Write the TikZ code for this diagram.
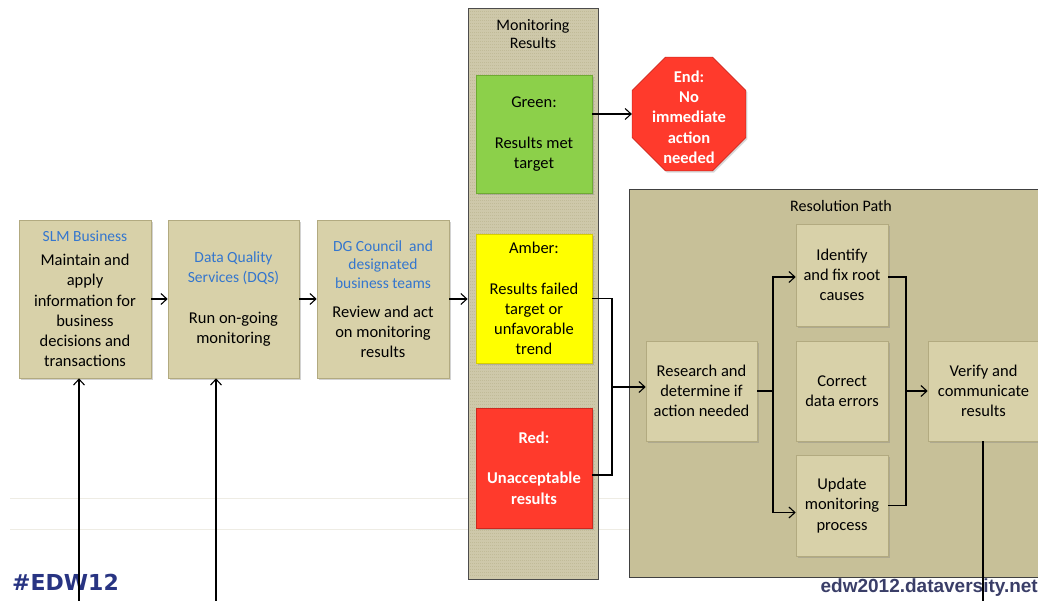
\documentclass[tikz,border=0pt]{standalone}
\usepackage{fontspec}
\setmainfont{Carlito}
\newfontfamily\tagfont{DejaVu Sans}
\newfontfamily\urlfont{Liberation Sans}
\usetikzlibrary{shapes.geometric,arrows.meta,shadows,calc}
\definecolor{boxtan}{RGB}{216,209,169}
\definecolor{boxedge}{RGB}{178,170,128}
\definecolor{paneltan}{RGB}{199,192,152}
\definecolor{coltan}{RGB}{206,200,170}
\definecolor{texcol}{RGB}{193,187,152}
\definecolor{hdblue}{RGB}{52,118,206}
\definecolor{greenbox}{RGB}{140,208,74}
\definecolor{greenedge}{RGB}{110,170,50}
\definecolor{amberbox}{RGB}{255,255,0}
\definecolor{amberedge}{RGB}{215,205,0}
\definecolor{redbox}{RGB}{255,58,44}
\definecolor{rededge}{RGB}{205,40,30}
\definecolor{tagblue}{RGB}{40,52,130}
\definecolor{urlcol}{RGB}{58,62,104}
\definecolor{faint}{RGB}{238,236,228}
\newcommand\dgbody{\fontsize{16.5}{20.3}\selectfont}
\newcommand\dghd[1]{{\color{hdblue}\fontsize{15.5}{18.5}\selectfont #1}}
\begin{document}
\begin{tikzpicture}[x=1pt,y=-1pt,
  procbox/.style={draw=boxedge, line width=0.6pt, fill=boxtan, inner sep=0pt, align=center, font=\dgbody,
    drop shadow={opacity=0.35, shadow xshift=1.5pt, shadow yshift=-1.8pt}},
  panel/.style={draw=black!75, line width=0.8pt, fill=paneltan, inner sep=0pt},
  colbox/.style={draw=black!70, line width=0.8pt, fill=coltan, inner sep=0pt},
  texline/.style={texcol, line width=0.4pt, dash pattern=on 1pt off 1pt},
  hdr/.style={align=center, inner sep=0pt, font=\fontsize{16}{18.5}\selectfont},
  greenstyle/.style={procbox, fill=greenbox, draw=greenedge},
  amberstyle/.style={procbox, fill=amberbox, draw=amberedge},
  redstyle/.style={procbox, fill=redbox, draw=rededge, text=white, font=\dgbody\bfseries},
  stopsign/.style={regular polygon, regular polygon sides=8, minimum size=123pt, inner sep=0pt,
    fill=redbox, draw=rededge, line width=0.6pt,
    drop shadow={opacity=0.3, shadow xshift=1.5pt, shadow yshift=-1.8pt}},
  conn/.style={line width=1.1pt, -{Straight Barb[length=6pt,width=11pt]}},
  plain/.style={line width=1.1pt}
]
\useasboundingbox (0,0) rectangle (1038,601);
\fill[white] (0,0) rectangle (1038,601);
% faint background lines
\draw[faint, line width=0.8pt] (10,498) -- (1038,498);
\draw[faint, line width=0.8pt] (10,529) -- (1038,529);

% monitoring column
\node[colbox, minimum width=130pt, minimum height=571pt] (mon) at (533,293.5) {};
\foreach \yy in {11,14,...,577} \draw[texline] (470,\yy) -- (596,\yy);
\node[hdr] (montitle) at (533,34) {Monitoring\\Results};

% resolution panel
\node[panel, minimum width=416pt, minimum height=388pt] (panel) at (837,383) {};
\node[hdr] (restitle) at (841,206) {Resolution Path};

% process boxes
\node[procbox, minimum width=132pt, minimum height=158pt] (slm) at (85,299)
  {\dghd{SLM Business}\\[3.6pt]Maintain and\\apply\\information for\\business\\decisions and\\transactions};
\node[procbox, minimum width=131pt, minimum height=158pt] (dqs) at (233.5,299)
  {\dghd{Data Quality}\\\dghd{Services (DQS)}\\[20.3pt]Run on-going\\monitoring};
\node[procbox, minimum width=132pt, minimum height=158pt] (dg) at (383,299)
  {\dghd{DG Council\ \ and}\\[-1.8pt]\dghd{designated}\\[-1.8pt]\dghd{business teams}\\[8.7pt]Review and act\\on monitoring\\results};

% result boxes
\node[greenstyle, minimum width=116pt, minimum height=118pt] (green) at (534,134)
  {Green:\\[20.3pt]Results met\\target};
\node[amberstyle, minimum width=116pt, minimum height=129pt] (amber) at (534,298.5)
  {Amber:\\[20.3pt]Results failed\\target or\\unfavorable\\trend};
\node[redstyle, minimum width=116pt, minimum height=120pt] (red) at (534,468)
  {Red:\\[20.3pt]Unacceptable\\results};

% stop sign
\node[stopsign] (end) at (689,114) {};
\node[align=center, text=white, font=\dgbody\bfseries, inner sep=0pt] (endtext) at (689,117)
  {End:\\No\\immediate\\action\\needed};

% resolution boxes
\node[procbox, minimum width=111pt, minimum height=100pt] (research) at (701.5,391)
  {Research and\\determine if\\action needed};
\node[procbox, minimum width=92pt, minimum height=102pt] (identify) at (842,275)
  {Identify\\and fix root\\causes};
\node[procbox, minimum width=92pt, minimum height=100pt] (correct) at (842,391)
  {Correct\\data errors};
\node[procbox, minimum width=92pt, minimum height=101pt] (update) at (842,505.5)
  {Update\\monitoring\\process};
\node[procbox, minimum width=111pt, minimum height=100pt] (verify) at (983.5,391)
  {Verify and\\communicate\\results};

% footer texts
\node[anchor=base west, inner sep=0pt, text=tagblue, font=\tagfont\bfseries\fontsize{22}{22}\selectfont] (tag) at (12,590) {\#EDW12};
\node[anchor=base east, inner sep=0pt, text=urlcol, font=\urlfont\bfseries\fontsize{19}{19}\selectfont] (url) at (1038,592) {edw2012.dataversity.net};

% junction coordinates
\coordinate (j) at (612,387);
\coordinate (k) at (773,391);
\coordinate (m) at (906,391);
\coordinate (s1) at (79,601);
\coordinate (s2) at (216,601);
\coordinate (vb) at (983,601);

% connectors
\draw[conn] (slm.east) -- (dqs.west);
\draw[conn] (dqs.west -| dqs.east) -- (dg.west);
\draw[conn] (dg.east) -- (dg.east -| mon.west);
\draw[conn] (end.west -| green.east) -- (end.west);
\draw[plain] (amber.east) -| (j);
\draw[plain] ($(red.east)+(0,7)$) -| (j);
\draw[conn] (j) -- (j -| research.west);
\draw[plain] (research.east) -- (k);
\draw[conn] (k) |- ($(identify.west)+(0,2)$);
\draw[conn] (k) |- ($(update.west)+(0,7)$);
\draw[plain] ($(identify.east)+(0,2)$) -| (m);
\draw[plain] (update.east) -| (m);
\draw[conn] (m) -- (verify.west);
\draw[plain] (verify.south -| vb) -- (vb);
\draw[conn] (s1) -- (s1 |- slm.south);
\draw[conn] (s2) -- (s2 |- dqs.south);
\end{tikzpicture}
\end{document}
